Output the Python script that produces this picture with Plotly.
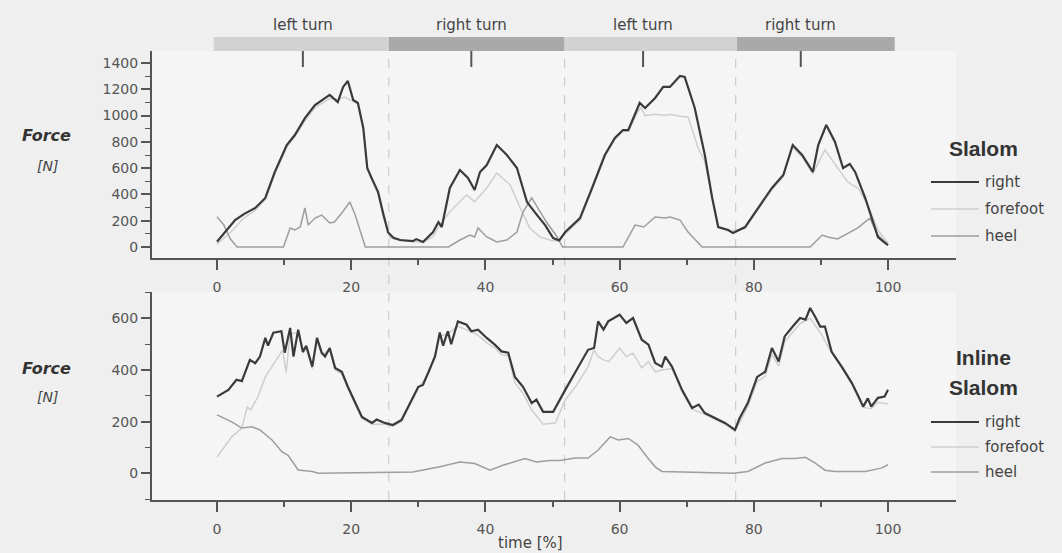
import plotly.graph_objects as go

W, H = 1062, 553

# ---------------- data ----------------
# Slalom (top panel)
slalom_right_x = [0, 1.5, 2.7, 4, 5.7, 7.2, 8.6, 10.4, 11.6, 13.1, 14.6, 16.8, 18, 18.8, 19.5, 20.3, 21, 21.8,
                  22.4, 23, 24, 24.8, 25.5, 26.3, 27.3, 29.2, 29.7, 30.7, 32.2, 33, 33.5, 34.7, 36.2, 37.4, 38.4,
                  39.2, 40.2, 41.7, 43.2, 44.7, 46.2, 47.7, 48.9, 50.1, 51, 51.9, 54.1, 55.9, 57.8, 59.3, 60.5,
                  61.3, 62.6, 63, 63.8, 65.3, 66.5, 67.5, 69, 69.7, 71.2, 72.7, 73.8, 74.7, 76.2, 76.9, 78.7, 80.6,
                  82.7, 84.4, 85.8, 87.2, 88.8, 89.6, 90.8, 92.1, 93.3, 94.3, 95.1, 96.6, 97.6, 98.5, 99.6, 100]
slalom_right_y = [40, 130, 205, 250, 297, 373, 570, 776, 852, 980, 1080, 1157, 1103, 1218, 1263, 1119, 1096, 906,
                  600, 530, 420, 250, 110, 70, 53, 45, 60, 38, 114, 190, 152, 449, 586, 525, 434,
                  571, 624, 776, 700, 601, 342, 243, 167, 68, 50, 114, 220, 449, 700, 830, 890,
                  890, 1043, 1096, 1058, 1134, 1218, 1218, 1301, 1294, 1058, 700, 373, 152, 129, 106, 152, 297,
                  449, 548, 776, 700, 571, 776, 928, 799, 601, 632, 571, 373, 220, 76, 30, 15]

slalom_fore_x = [0, 2, 4, 5.7, 7.2, 8.6, 10.4, 11.6, 13.1, 14.6, 16.8, 18, 19, 20.3, 21, 21.8, 22.4, 23, 24, 24.8,
                 25.8, 27.3, 29.2, 30.7, 32.2, 33, 34.7, 37.2, 38.4, 40.2, 41.7, 43.7, 45.2, 46.6, 48.1, 49.8, 51,
                 51.9, 54.1, 55.9, 57.8, 59.3, 60.5, 61.3, 62.6, 63.2, 63.8, 65.3, 66.8, 67.5, 69, 70.2, 71.7,
                 72.7, 73.8, 74.7, 76.2, 78.7, 80.6, 82.7, 84.4, 85.8, 87.2, 88.8, 90.6, 92.1, 94, 95.5, 97,
                 98.5, 100]
slalom_fore_y = [20, 110, 220, 280, 360, 550, 760, 840, 960, 1060, 1130, 1120, 1140, 1110, 1090, 900, 600, 520, 400,
                 220, 70, 50, 40, 35, 80, 150, 269, 396, 345, 449, 563, 472, 297, 145, 78, 50, 45,
                 100, 205, 435, 690, 820, 880, 880, 1020, 1060, 1000, 1010, 1000, 1010, 995, 990, 753,
                 650, 360, 150, 120, 140, 285, 435, 535, 760, 685, 560, 738, 632, 495, 449, 320,
                 129, 30]

slalom_heel_x = [0, 1, 2, 3, 9.9, 10.9, 11.6, 12.4, 13.1, 13.6, 14.6, 15.6, 16.8, 17.5, 18.6, 19.8, 20.6, 21.6,
                 22.1, 34.5, 36.2, 37.7, 38.4, 38.9, 40.2, 41.7, 43.2, 44.7, 45.6, 46.9, 47.8, 49.1, 50.7, 51.5,
                 60.5, 62.3, 63.6, 65.3, 66.8, 67.5, 69, 70.2, 72.3, 88.4, 90.2, 91, 92.5, 94.3, 95.5, 97.3,
                 98.5, 100]
slalom_heel_y = [230, 170, 60, 0, 0, 145, 130, 152, 297, 167, 220, 243, 183, 190, 259, 342, 243, 68,
                 0, 0, 53, 91, 76, 145, 76, 38, 53, 114, 266, 373, 297, 190, 76, 0,
                 0, 167, 152, 228, 220, 228, 205, 114, 0, 0, 91, 76, 61, 114, 145, 220,
                 91, 15]

# Inline Slalom (bottom panel)
inline_right_x = [0, 1.7, 2.9, 3.7, 4.9, 5.7, 6.4, 7.2, 7.6, 8.4, 9.6, 10.1, 10.9, 11.4, 12.1, 12.8, 13.3, 14.2,
                  14.9, 15.6, 16.1, 16.8, 17.6, 18.6, 19.5, 20.6, 21.6, 23.1, 23.8, 25, 26.2, 27.5, 28.8, 30,
                  30.7, 31.7, 32.5, 33.2, 33.7, 34.4, 34.9, 35.9, 37.2, 37.9, 38.9, 40.2, 41.4, 42.4, 43.4, 44.4,
                  45.6, 46.9, 47.6, 48.6, 50.1, 51.9, 53.6, 55.3, 56.2, 56.8, 57.6, 58.3, 60, 61, 62, 63.3, 64.3,
                  65.3, 66.3, 66.8, 67.8, 69.3, 70.8, 71.8, 72.7, 74.2, 75.7, 77.2, 77.9, 79.1, 80.5, 81.7, 82.7,
                  83.7, 84.6, 85.8, 86.9, 87.7, 88.4, 89.1, 89.9, 90.6, 91.6, 93.1, 94.6, 95.6, 96.3, 97, 97.5,
                  98.5, 99.5, 100]
inline_right_y = [297, 323, 362, 357, 439, 426, 452, 524, 494, 544, 550, 467, 563, 452, 556, 470, 494, 413,
                  524, 467, 452, 485, 408, 393, 335, 272, 218, 195, 208, 195, 187, 206, 272, 335,
                  342, 400, 452, 545, 494, 550, 500, 588, 575, 550, 556, 524, 498, 472, 467, 373,
                  335, 272, 285, 238, 238, 323, 400, 478, 485, 588, 556, 588, 614, 582, 601, 517, 498,
                  427, 413, 452, 413, 323, 253, 266, 233, 214, 195, 168, 214, 272, 373, 393, 485,
                  433, 530, 568, 601, 595, 640, 608, 568, 568, 470, 413, 350, 297, 258, 290, 258,
                  292, 297, 323]

inline_fore_x = [0, 2.2, 3.7, 4.5, 5, 6.1, 7.2, 8.2, 9.1, 9.8, 10.3, 10.9, 12.1, 12.8, 13.3, 14.2, 14.9, 15.6,
                 16.8, 17.6, 18.6, 19.5, 20.6, 21.6, 23.1, 25, 26.2, 27.5, 28.8, 30, 31.7, 33.2, 34.4, 35.9,
                 37.2, 38.9, 40.2, 41.4, 42.4, 43.4, 44.4, 45.6, 46.9, 48.6, 50.4, 51.9, 53.6, 55.3, 56.2, 56.8,
                 57.6, 58.4, 60, 61, 62, 63.3, 64.3, 65.3, 66.3, 67.8, 69.3, 70.8, 72.7, 74.2, 75.7, 77.2, 79.1,
                 80.5, 81.7, 82.7, 83.7, 84.6, 85.8, 86.9, 88.4, 89.9, 91.6, 93.1, 94.6, 96.3, 97.5, 98.5, 100]
inline_fore_y = [63, 141, 175, 257, 245, 297, 373, 413, 452, 478, 390, 540, 545, 465, 485, 405, 515, 460,
                 478, 400, 385, 328, 265, 212, 190, 190, 182, 200, 265, 328, 393, 530, 540, 570,
                 555, 535, 505, 485, 460, 455, 350, 310, 245, 190, 195, 284, 342, 413, 478, 452,
                 439, 432, 485, 452, 465, 408, 432, 393, 400, 405, 315, 248, 228, 208, 190, 162, 258,
                 355, 375, 460, 415, 510, 545, 580, 600, 545, 465, 408, 345, 255, 250, 275, 268]

inline_heel_x = [0, 2.2, 3.7, 5.2, 6.4, 8.2, 9.7, 10.6, 12.1, 14.2, 15.1, 29.2, 33.2, 36.2, 38.4, 40.7, 42.6,
                 44.2, 45.9, 47.6, 49.6, 51.1, 53.4, 55.3, 56.8, 58.6, 59.8, 61.3, 62.7, 64.2, 65.3, 66.3, 77,
                 79.1, 81.7, 84.2, 86.2, 87.7, 89.1, 90.6, 92.1, 96.6, 99, 100]
inline_heel_y = [226, 199, 175, 180, 168, 129, 83, 70, 13, 7, 0, 5, 25, 44, 38, 12, 31,
                 44, 57, 44, 50, 50, 59, 59, 90, 141, 129, 135, 110, 59, 25, 7, 0,
                 7, 40, 57, 57, 62, 40, 12, 7, 7, 20, 33]

# turn phases (top bar)
phase_names = ["left turn", "right turn", "left turn", "right turn"]
phase_bounds = [-0.5, 25.6, 51.8, 77.5, 101]
phase_marks = [12.8, 37.9, 63.5, 87]
phase_colors = ["#d2d2d2", "#a9a9a9", "#d2d2d2", "#a9a9a9"]
phase_dividers = [25.6, 51.8, 77.3]

series_names = ["right", "forefoot", "heel"]
series_colors = ["#3a3a3a", "#cfcfcf", "#9e9e9e"]
series_widths = [2.2, 1.5, 1.5]

x_ticks = [0, 20, 40, 60, 80, 100]
top_y_ticks = [0, 200, 400, 600, 800, 1000, 1200, 1400]
bot_y_ticks = [0, 200, 400, 600]

# ---------------- helpers ----------------
def PX(px):
    return px / W

def PY(py):
    return 1 - py / H

FONT = "DejaVu Sans"
TICKC = "#555555"

fig = go.Figure()

top_series = [(slalom_right_x, slalom_right_y), (slalom_fore_x, slalom_fore_y), (slalom_heel_x, slalom_heel_y)]
bot_series = [(inline_right_x, inline_right_y), (inline_fore_x, inline_fore_y), (inline_heel_x, inline_heel_y)]

# draw light ones first, dark on top
order = [1, 2, 0]
for i in order:
    xs, ys = top_series[i]
    fig.add_trace(go.Scatter(x=xs, y=ys, mode="lines", name=series_names[i], xaxis="x", yaxis="y",
                             line=dict(color=series_colors[i], width=series_widths[i]), showlegend=False))
for i in order:
    xs, ys = bot_series[i]
    fig.add_trace(go.Scatter(x=xs, y=ys, mode="lines", name=series_names[i], xaxis="x2", yaxis="y2",
                             line=dict(color=series_colors[i], width=series_widths[i]), showlegend=False))

xdom = [PX(152), PX(956)]
xrange_ = [-(217 - 152) / 6.71, 100 + (956 - 888) / 6.71]

def xax(anchor):
    return dict(domain=xdom, range=xrange_, anchor=anchor, tickvals=x_ticks, ticks="outside", ticklen=10,
                tickwidth=1.5, tickcolor=TICKC, showline=True, linecolor=TICKC, linewidth=2, showgrid=False,
                zeroline=False, tickfont=dict(family=FONT, size=14, color=TICKC), ticklabelstandoff=5,
                minor=dict(tickvals=[10, 30, 50, 70, 90], ticks="outside", ticklen=5, tickcolor=TICKC,
                           tickwidth=1.5, showgrid=False))

def yax(anchor, dom, rng, tv):
    return dict(domain=dom, range=rng, anchor=anchor, tickvals=tv, ticks="outside", ticklen=9,
                tickwidth=1.5, tickcolor=TICKC, showline=True, linecolor=TICKC, linewidth=2, showgrid=False,
                zeroline=False, tickfont=dict(family=FONT, size=14, color=TICKC),
                minor=dict(dtick=100, ticks="outside", ticklen=5, tickcolor=TICKC, tickwidth=1.2,
                           showgrid=False))

s_top = (247 - 63) / 1400
s_bot = (473.3 - 318.3) / 600

shapes = []
annotations = []

# dividers
for d in phase_dividers:
    shapes.append(dict(type="line", xref="x", yref="paper", x0=d, x1=d, y0=PY(500), y1=PY(51),
                       line=dict(color="#cccccc", width=1.2, dash="dash"), layer="below"))
# phase bars
for i, name in enumerate(phase_names):
    shapes.append(dict(type="rect", xref="x", yref="paper", x0=phase_bounds[i], x1=phase_bounds[i + 1],
                       y0=PY(51), y1=PY(37), fillcolor=phase_colors[i], line=dict(width=0)))
    shapes.append(dict(type="line", xref="x", yref="paper", x0=phase_marks[i], x1=phase_marks[i],
                       y0=PY(67), y1=PY(51), line=dict(color="#555555", width=2)))
    annotations.append(dict(text=name, xref="x", yref="paper", x=phase_marks[i], y=PY(25), showarrow=False,
                            xanchor="center", yanchor="middle",
                            font=dict(family=FONT, size=15, color="#444444")))

# y-axis titles
for (py1, py2) in [(136, 166), (368, 397)]:
    annotations.append(dict(text="<b><i>Force</i></b>", xref="paper", yref="paper", x=PX(46), y=PY(py1),
                            showarrow=False, xanchor="center", yanchor="middle",
                            font=dict(family=FONT, size=16, color="#333333")))
    annotations.append(dict(text="<i>[N]</i>", xref="paper", yref="paper", x=PX(47), y=PY(py2),
                            showarrow=False, xanchor="center", yanchor="middle",
                            font=dict(family=FONT, size=14, color="#444444")))

annotations.append(dict(text="time [%]", xref="paper", yref="paper", x=PX(530), y=PY(543), showarrow=False,
                        xanchor="center", yanchor="middle", font=dict(family=FONT, size=15, color="#444444")))

# legends
def legend(title_lines, title_py, item_py):
    for t, py in zip(title_lines, title_py):
        annotations.append(dict(text="<b>" + t + "</b>", xref="paper", yref="paper", x=PX(983), y=PY(py),
                                showarrow=False, xanchor="center", yanchor="middle",
                                font=dict(family="Liberation Sans", size=21, color="#333333")))
    for i, py in enumerate(item_py):
        shapes.append(dict(type="line", xref="paper", yref="paper", x0=PX(931), x1=PX(979), y0=PY(py), y1=PY(py),
                           line=dict(color=series_colors[i], width=series_widths[i])))
        annotations.append(dict(text=series_names[i], xref="paper", yref="paper", x=PX(983), y=PY(py),
                                showarrow=False, xanchor="left", yanchor="middle",
                                font=dict(family=FONT, size=15, color="#444444")))

legend(["Slalom"], [149], [182, 209, 236])
legend(["Inline", "Slalom"], [357, 388], [422, 447, 472])

fig.update_layout(
    width=W, height=H, margin=dict(l=0, r=0, t=0, b=0),
    paper_bgcolor="#efefef", plot_bgcolor="#f5f5f5",
    xaxis=xax("y"), xaxis2=xax("y2"),
    yaxis=yax("x", [PY(258), PY(51)], [-(258 - 247) / s_top, 1400 + (63 - 51) / s_top], top_y_ticks),
    yaxis2=yax("x2", [PY(500), PY(291.7)], [-(500 - 473.3) / s_bot, 600 + (318.3 - 291.7) / s_bot], bot_y_ticks),
    shapes=shapes, annotations=annotations, showlegend=False,
)

fig.write_html("out.html")
